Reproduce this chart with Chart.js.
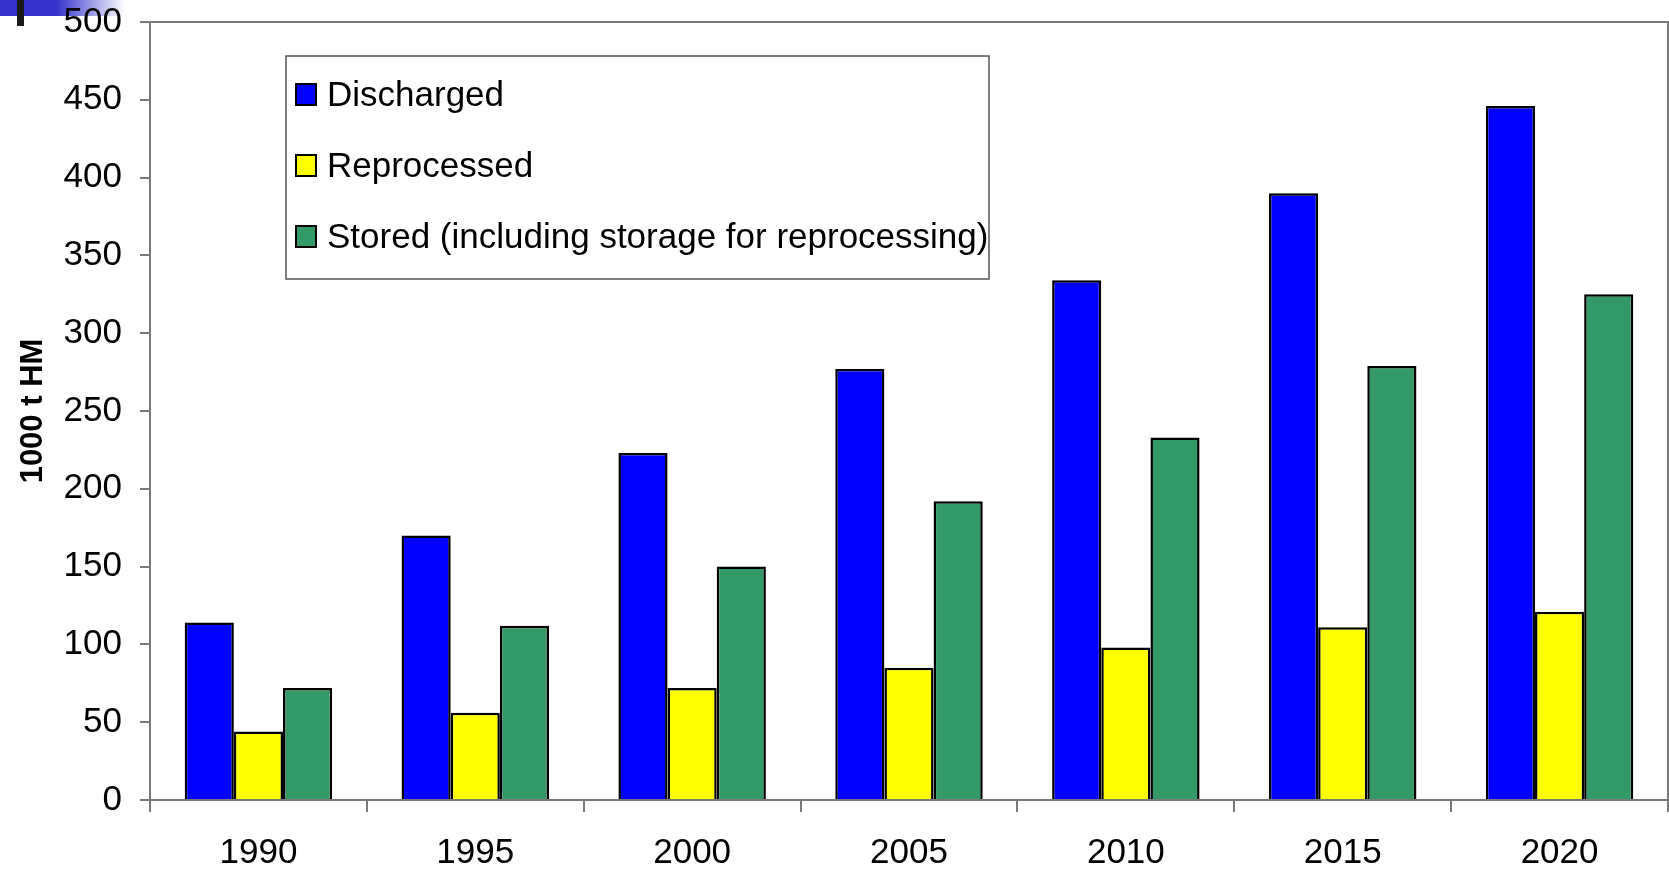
<!DOCTYPE html>
<html>
<head>
<meta charset="utf-8">
<script src="https://cdn.jsdelivr.net/npm/chart.js@4.4.1/dist/chart.umd.min.js"></script>
<style>
  html, body { margin: 0; padding: 0; background: #fff; }
  #wrap { position: relative; width: 1669px; height: 871px; }
  #band { position: absolute; left: 0; top: 0; width: 125px; height: 16px;
          background: linear-gradient(to right, #3333cc 0%, #3333cc 45%, rgba(51,51,204,0) 100%); }
  #mark { position: absolute; left: 17px; top: 0; width: 7px; height: 26px; background: #1a1a1a; }
  #wasteChart { position: absolute; left: 0; top: 0; }
</style>
</head>
<body>
<div id="wrap">
  <div id="band"></div>
  <div id="mark"></div>
  <canvas id="wasteChart" width="1669" height="871"></canvas>
</div>
<script>
// 数据
const years = ['1990', '1995', '2000', '2005', '2010', '2015', '2020'];
const discharged = [114, 170, 223, 277, 334, 390, 446];
const reprocessed = [44, 56, 72, 85, 98, 111, 121];
const stored = [72, 112, 150, 192, 233, 279, 325];
const yTicks = [0, 50, 100, 150, 200, 250, 300, 350, 400, 450, 500];

const FONT = '"Liberation Sans", Arial, sans-serif';
const AXIS_GRAY = '#7a7a7a';

// 绘图区上边框和右边框
const plotFrame = {
    id: 'plotFrame',
    beforeDatasetsDraw(chart) {
        const { ctx, chartArea: a } = chart;
        ctx.save();
        ctx.strokeStyle = AXIS_GRAY;
        ctx.lineWidth = 2;
        ctx.beginPath();
        ctx.moveTo(a.left, a.top);
        ctx.lineTo(a.right, a.top);
        ctx.lineTo(a.right, a.bottom);
        ctx.stroke();
        ctx.restore();
    }
};

// 图例框（在绘图区内）
const boxLegend = {
    id: 'boxLegend',
    afterDraw(chart) {
        const { ctx } = chart;
        const x = 286, y = 56, w = 703, h = 223;
        ctx.save();
        ctx.fillStyle = '#fff';
        ctx.fillRect(x, y, w, h);
        ctx.strokeStyle = '#555';
        ctx.lineWidth = 1.5;
        ctx.strokeRect(x, y, w, h);
        ctx.font = '35px ' + FONT;
        ctx.textBaseline = 'middle';
        chart.data.datasets.forEach((ds, i) => {
            const cy = 94 + i * 71;
            ctx.fillStyle = ds.backgroundColor;
            ctx.fillRect(296, cy - 10, 20, 21);
            ctx.strokeStyle = '#000';
            ctx.lineWidth = 2;
            ctx.strokeRect(296, cy - 10, 20, 21);
            ctx.fillStyle = '#000';
            ctx.fillText(ds.label, 327, cy + 2);
        });
        ctx.restore();
    }
};

function barSet(label, data, color) {
    return {
        label, data,
        backgroundColor: color,
        borderColor: '#000',
        borderWidth: 2.5,
        categoryPercentage: 0.68,
        barPercentage: 1.0
    };
}

new Chart(document.getElementById('wasteChart'), {
    type: 'bar',
    data: {
        labels: years,
        datasets: [
            barSet('Discharged', discharged, '#0000ff'),
            barSet('Reprocessed', reprocessed, '#ffff00'),
            barSet('Stored (including storage for reprocessing)', stored, '#339966')
        ]
    },
    options: {
        responsive: false,
        animation: false,
        layout: { padding: { top: 22, right: 1, left: 15, bottom: 0 } },
        scales: {
            x: {
                grid: { display: true, offset: true, drawOnChartArea: false, tickLength: 12, color: AXIS_GRAY, lineWidth: 2 },
                border: { display: true, color: AXIS_GRAY, width: 2 },
                ticks: { color: '#000', font: { family: FONT, size: 35 }, padding: 20, maxRotation: 0 },
                afterFit(scale) { scale.height = 71; scale.paddingLeft = 0; scale.paddingRight = 0; }
            },
            y: {
                min: 0,
                max: 500,
                afterBuildTicks(scale) { scale.ticks = yTicks.map(v => ({ value: v })); },
                grid: { drawOnChartArea: false, tickLength: 10, color: AXIS_GRAY, lineWidth: 2 },
                border: { display: true, color: AXIS_GRAY, width: 2 },
                ticks: { color: '#000', font: { family: FONT, size: 35 }, padding: 18 },
                title: { display: true, text: '1000 t HM', color: '#000', font: { family: FONT, size: 31, weight: 'bold' }, padding: 0 },
                afterFit(scale) { scale.width = 135; scale.paddingTop = 0; scale.paddingBottom = 0; }
            }
        },
        plugins: {
            legend: { display: false },
            tooltip: { enabled: false }
        }
    },
    plugins: [plotFrame, boxLegend]
});
</script>
</body>
</html>
